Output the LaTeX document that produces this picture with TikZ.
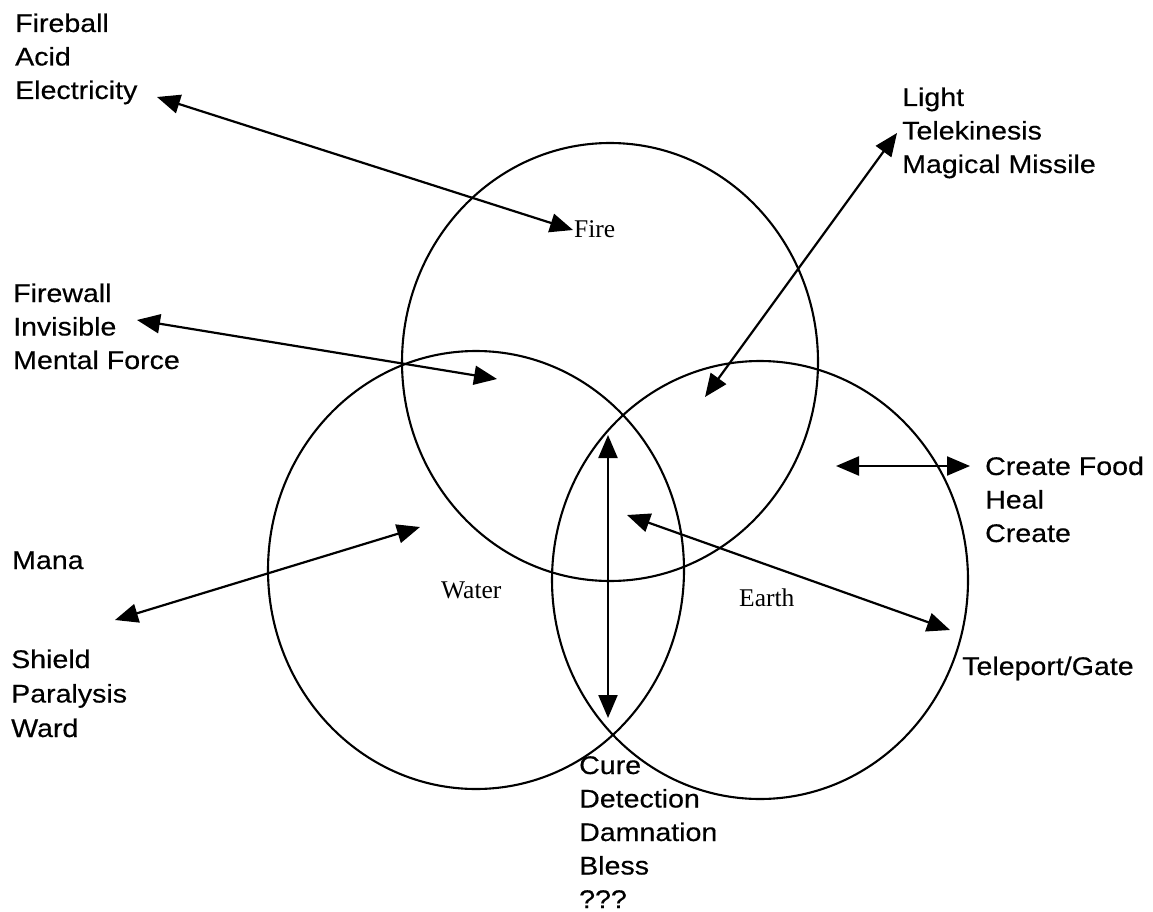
\documentclass[tikz,border=0pt]{standalone}
\usepackage{fontspec}
\setmainfont{Liberation Serif}
\newfontfamily\spellfont[FakeStretch=1.12,FakeBold=0.4]{Liberation Sans}
\usetikzlibrary{arrows.meta,shapes.geometric}
\begin{document}
\begin{tikzpicture}[x=1pt,y=-1pt,
  ring/.style={draw, ellipse, line width=2.1pt, minimum width=416pt, minimum height=438pt, inner sep=0pt, outer sep=0pt},
  spell/.style={font=\spellfont\fontsize{25.5}{30}\selectfont, anchor=base west, inner sep=0pt},
  elem/.style={font=\fontsize{25.5}{30}\selectfont, anchor=base west, inner sep=0pt},
  link/.style={{Triangle[length=23pt,width=19pt]}-{Triangle[length=23pt,width=19pt]}, line width=2.2pt}]
\useasboundingbox (0,0) rectangle (1153,912);
% circles
\node[ring] (fire)  at (610,362) {};
\node[ring] (water) at (476,570) {};
\node[ring] (earth) at (760,580) {};
% element labels
\node[elem] (firelbl)  at (574,237) {Fire};
\node[elem] (waterlbl) at (441,598) {Water};
\node[elem] (earthlbl) at (739,606) {Earth};
% spell lists
\node[spell] (fb1) at (15,32)  {Fireball};
\node[spell] (fb2) at (15,65.5) {Acid};
\node[spell] (fb3) at (15,99)  {Electricity};
\node[spell] (li1) at (902,106) {Light};
\node[spell] (li2) at (902,139.5) {Telekinesis};
\node[spell] (li3) at (902,173) {Magical Missile};
\node[spell] (fw1) at (13,302) {Firewall};
\node[spell] (fw2) at (13,335.5) {Invisible};
\node[spell] (fw3) at (13,369) {Mental Force};
\node[spell] (ma1) at (12,569) {Mana};
\node[spell] (sh1) at (11,668) {Shield};
\node[spell] (sh2) at (11,702.5) {Paralysis};
\node[spell] (sh3) at (11,737) {Ward};
\node[spell] (cu1) at (579,774) {Cure};
\node[spell] (cu2) at (579,807.5) {Detection};
\node[spell] (cu3) at (579,841) {Damnation};
\node[spell] (cu4) at (579,874.5) {Bless};
\node[spell] (cu5) at (579,908) {???};
\node[spell] (cf1) at (985,475) {Create Food};
\node[spell] (cf2) at (985,508.5) {Heal};
\node[spell] (cf3) at (985,542) {Create};
\node[spell] (tg1) at (962,675) {Teleport/Gate};
% arrow end points
\coordinate (a1s) at (157,97);  \coordinate (a1e) at (573,230);
\coordinate (a2s) at (137,320); \coordinate (a2e) at (497,379);
\coordinate (a3s) at (897,133); \coordinate (a3e) at (705,397);
\coordinate (a4s) at (608,435); \coordinate (a4e) at (608,718);
\coordinate (a5s) at (627,515); \coordinate (a5e) at (950,630);
\coordinate (a6s) at (836,466); \coordinate (a6e) at (970,466);
\coordinate (a7s) at (115,620); \coordinate (a7e) at (420,527);
% arrows
\draw[link] (a1s) -- (a1e);
\draw[link] (a2s) -- (a2e);
\draw[link] (a3s) -- (a3e);
\draw[link] (a4s) -- (a4e);
\draw[link] (a5s) -- (a5e);
\draw[link] (a6s) -- (a6e);
\draw[link] (a7s) -- (a7e);
\end{tikzpicture}
\end{document}
